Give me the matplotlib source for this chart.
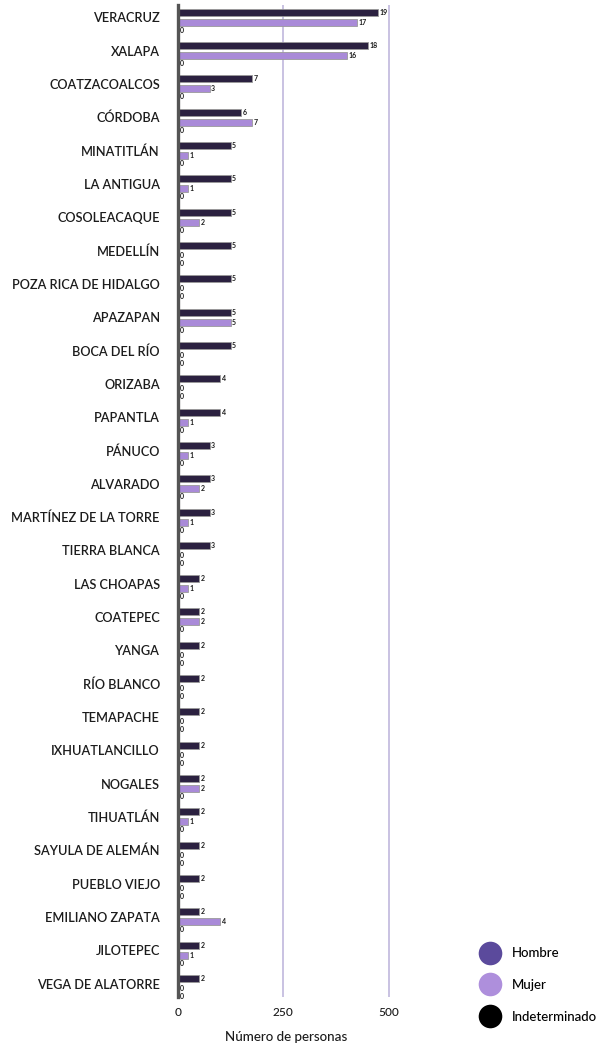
import matplotlib.pyplot as plt
from matplotlib.lines import Line2D
import numpy as np

municipios = [
    "VERACRUZ", "XALAPA", "COATZACOALCOS", "CÓRDOBA", "MINATITLÁN",
    "LA ANTIGUA", "COSOLEACAQUE", "MEDELLÍN", "POZA RICA DE HIDALGO", "APAZAPAN",
    "BOCA DEL RÍO", "ORIZABA", "PAPANTLA", "PÁNUCO", "ALVARADO",
    "MARTÍNEZ DE LA TORRE", "TIERRA BLANCA", "LAS CHOAPAS", "COATEPEC", "YANGA",
    "RÍO BLANCO", "TEMAPACHE", "IXHUATLANCILLO", "NOGALES", "TIHUATLÁN",
    "SAYULA DE ALEMÁN", "PUEBLO VIEJO", "EMILIANO ZAPATA", "JILOTEPEC", "VEGA DE ALATORRE",
]
hombre = [19, 18, 7, 6, 5, 5, 5, 5, 5, 5, 5, 4, 4, 3, 3, 3, 3, 2, 2, 2,
          2, 2, 2, 2, 2, 2, 2, 2, 2, 2]
mujer = [17, 16, 3, 7, 1, 1, 2, 0, 0, 5, 0, 0, 1, 1, 2, 1, 0, 1, 2, 0,
         0, 0, 0, 2, 1, 0, 0, 4, 1, 0]
indeterminado = [0] * 30

tick_pos = [0, 10, 20]
tick_labels = ["0", "250", "500"]

C_HOMBRE = "#2b2140"
C_MUJER = "#a98ad8"
C_LEG_HOMBRE = "#5b4a9c"
C_LEG_MUJER = "#ae8fdc"
C_TEXT = "#1c1c1c"

plt.rcParams["font.family"] = ["Lato", "DejaVu Sans"]

fig = plt.figure(figsize=(6.05, 10.46), dpi=100)
ax = fig.add_axes([0.294, 0.047, 0.359, 0.948])

y = np.arange(len(municipios))
h = 0.21
series = [
    (hombre, -0.15, C_HOMBRE),
    (mujer, 0.15, C_MUJER),
    (indeterminado, 0.39, "black"),
]
for vals, off, col in series:
    ax.barh(y + off, vals, height=h, color=col, edgecolor="#9a9a9a",
            linewidth=0.6, zorder=3)
    for yi, v in zip(y, vals):
        ax.text(v + 0.15, yi + off, str(v), fontsize=5, fontweight="bold",
                color=C_TEXT, va="center", ha="left", zorder=4)

ax.set_xlim(0, 20.6)
ax.set_ylim(len(municipios) - 0.6, -0.36)
ax.set_yticks(y)
ax.set_yticklabels(municipios, fontsize=9.2, color=C_TEXT, fontweight="semibold")
ax.tick_params(axis="y", length=0, pad=13)
ax.set_xticks(tick_pos)
ax.set_xticklabels(tick_labels, fontsize=8.6, color=C_TEXT, fontweight="medium")
ax.tick_params(axis="x", length=0, pad=7)
ax.set_xlabel("Número de personas", fontsize=9.6, color=C_TEXT, labelpad=10,
              fontweight="medium")

for xv in tick_pos[1:]:
    ax.axvline(xv, color="#c9c2e2", linewidth=1.4, zorder=1)

for s in ["top", "right", "bottom"]:
    ax.spines[s].set_visible(False)
ax.spines["left"].set_color("#555555")
ax.spines["left"].set_linewidth(2.4)
ax.spines["left"].set_zorder(5)

handles = [
    Line2D([], [], marker="o", linestyle="none", markersize=17,
           markerfacecolor=C_LEG_HOMBRE, markeredgecolor="none", label="Hombre"),
    Line2D([], [], marker="o", linestyle="none", markersize=17,
           markerfacecolor=C_LEG_MUJER, markeredgecolor="none", label="Mujer"),
    Line2D([], [], marker="o", linestyle="none", markersize=17,
           markerfacecolor="black", markeredgecolor="none", label="Indeterminado"),
]
fig.legend(handles=handles, loc="center left", bbox_to_anchor=(0.785, 0.0583),
           frameon=False, prop={"size": 9.5, "weight": "medium"},
           labelspacing=1.5, handlelength=1.5, handletextpad=0.9, borderaxespad=0)

fig.savefig("out.png", dpi=100)
